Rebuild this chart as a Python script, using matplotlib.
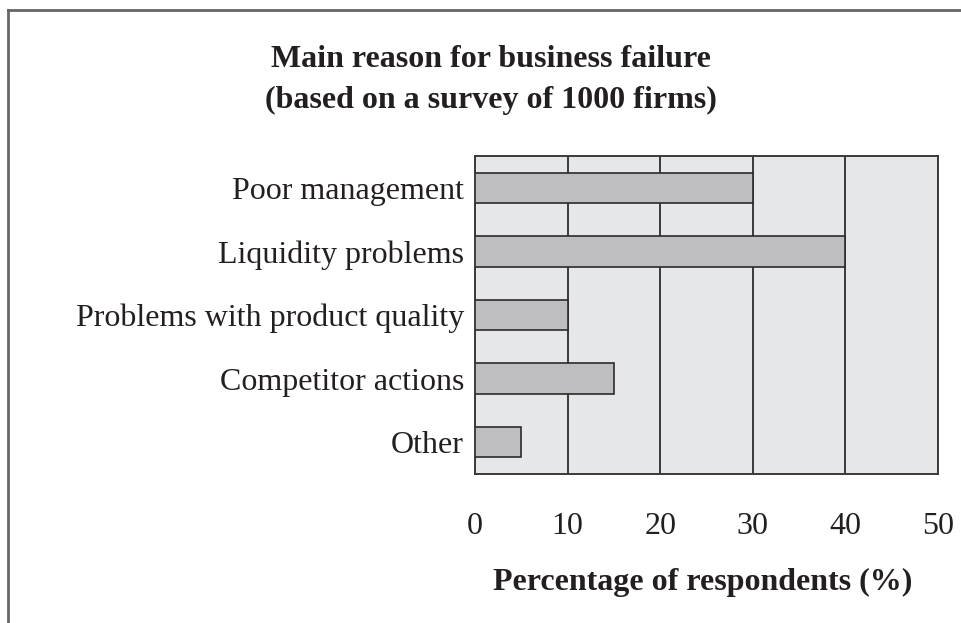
import matplotlib
matplotlib.use("Agg")
import matplotlib.pyplot as plt
from matplotlib.lines import Line2D

# data
reasons = ["Poor management", "Liquidity problems", "Problems with product quality",
           "Competitor actions", "Other"]
percent = [30, 40, 10, 15, 5]
xticks = [0, 10, 20, 30, 40, 50]

plt.rcParams['font.family'] = ['Liberation Serif', 'DejaVu Serif']

W, H = 962, 623
fig = plt.figure(figsize=(W / 100, H / 100), dpi=100)
ax = fig.add_axes([475 / W, 1 - 474 / H, (938 - 475) / W, (474 - 156) / H])

ax.set_facecolor("#e6e7e8")
ax.barh(range(len(reasons)), percent, height=0.48, color="#bebec0",
        edgecolor="#2b2b2b", linewidth=1.2, zorder=3)
ax.set_xlim(0, 50)
ax.set_ylim(len(reasons) - 0.5, -0.5)
ax.set_yticks(range(len(reasons)))
ax.set_yticklabels(reasons, fontsize=23, color="#231f20")
ax.set_xticks(xticks)
ax.set_xticklabels([str(t) for t in xticks], fontsize=23, color="#231f20")
ax.tick_params(axis="both", length=0)
ax.tick_params(axis="x", pad=27)
ax.tick_params(axis="y", pad=8)
ax.xaxis.grid(True, color="#3a3a3a", linewidth=1.4, zorder=1)
ax.set_axisbelow(True)
for s in ax.spines.values():
    s.set_color("#3a3a3a")
    s.set_linewidth(1.4)

fig.text(703 / W, 1 - 590 / H, "Percentage of respondents (%)", ha="center",
         va="baseline", fontsize=23, fontweight="bold", color="#231f20")

fig.text(491 / W, 1 - 67 / H, "Main reason for business failure", ha="center",
         va="baseline", fontsize=23, fontweight="bold", color="#231f20")
fig.text(491 / W, 1 - 108 / H, "(based on a survey of 1000 firms)", ha="center",
         va="baseline", fontsize=23, fontweight="bold", color="#231f20")

# outer frame (top and left only visible)
fig.add_artist(Line2D([8 / W, 1.0], [1 - 10 / H, 1 - 10 / H], color="#666666", linewidth=2))
fig.add_artist(Line2D([8 / W, 8 / W], [1 - 10 / H, 0.0], color="#666666", linewidth=2))

fig.savefig("out.png", dpi=100)
